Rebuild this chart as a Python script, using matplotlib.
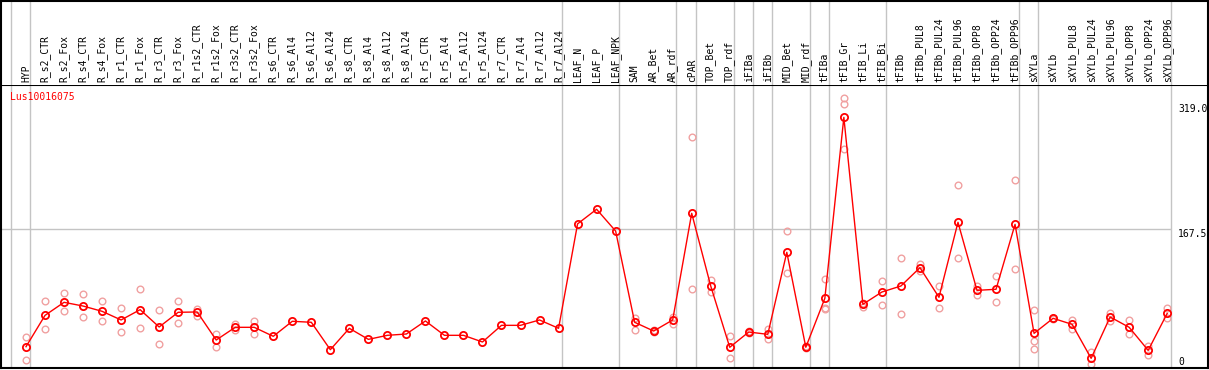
import matplotlib
matplotlib.use("Agg")
import matplotlib.pyplot as plt
import matplotlib.transforms as mtransforms

title = "Lus10016075"
samples = ["HYP", "R_s2_CTR", "R_s2_Fox", "R_s4_CTR", "R_s4_Fox", "R_r1_CTR", "R_r1_Fox",
           "R_r3_CTR", "R_r3_Fox", "R_r1s2_CTR", "R_r1s2_Fox", "R_r3s2_CTR", "R_r3s2_Fox",
           "R_s6_CTR", "R_s6_Al4", "R_s6_Al12", "R_s6_Al24", "R_s8_CTR", "R_s8_Al4",
           "R_s8_Al12", "R_s8_Al24", "R_r5_CTR", "R_r5_Al4", "R_r5_Al12", "R_r5_Al24",
           "R_r7_CTR", "R_r7_Al4", "R_r7_Al12", "R_r7_Al24", "LEAF_N", "LEAF_P", "LEAF_NPK",
           "SAM", "AR_Bet", "AR_rdf", "cPAR", "TOP_Bet", "TOP_rdf", "iFIBa", "iFIBb",
           "MID_Bet", "MID_rdf", "tFIBa", "tFIB_Gr", "tFIB_Li", "tFIB_Bi", "tFIBb",
           "tFIBb_PUL8", "tFIBb_PUL24", "tFIBb_PUL96", "tFIBb_OPP8", "tFIBb_OPP24",
           "tFIBb_OPP96", "sXYLa", "sXYLb", "sXYLb_PUL8", "sXYLb_PUL24", "sXYLb_PUL96",
           "sXYLb_OPP8", "sXYLb_OPP24", "sXYLb_OPP96"]

means = [24.6, 62.6, 78.4, 73.9, 67.5, 57.0, 69.5, 48.5, 66.3, 66.7, 32.7, 48.1, 48.1,
         37.2, 55.4, 54.2, 21.0, 46.9, 33.5, 38.4, 40.0, 55.8, 38.4, 38.4, 30.3,
         50.5, 50.5, 57.0, 46.9, 173.5, 191.2, 164.8,
         54.2, 43.6, 57.0, 186.3, 98.2, 23.9, 42.4, 39.6,
         139.0, 23.9, 83.2, 302.6, 76.0, 90.9, 98.2,
         120.4, 84.5, 175.4, 92.9, 94.2, 172.9,
         40.8, 59.0, 51.7, 10.5, 60.6, 48.1, 20.2, 65.0]

replicates = [[36.0, 8.5], [80.4, 45.7], [89.3, 67.5], [88.1, 60.2], [80.0, 55.4],
              [71.1, 42.4], [94.2, 47.3], [68.7, 27.5], [80.0, 53.0], [69.9, 62.2],
              [40.4, 24.6], [52.1, 44.4], [56.1, 39.6],
              [], [], [], [], [], [], [], [], [], [], [], [], [], [], [], [], [], [], [],
              [59.8, 44.8], [44.8, 42.4], [61.0, 52.5], [278.4, 94.2], [105.5, 90.5],
              [37.2, 10.9], [43.6, 41.2], [45.7, 33.9],
              [164.4, 113.5], [25.1, 22.7], [106.3, 71.9, 69.9], [325.7, 318.4, 263.9],
              [73.1, 77.2], [103.9, 74.8], [132.1, 63.9],
              [125.2, 116.4], [97.8, 71.1], [220.2, 131.7], [98.6, 86.9], [109.9, 78.4],
              [226.3, 118.4],
              [68.7, 31.1, 21.5], [58.0, 60.0], [57.4, 45.7], [17.8, 4.0], [65.0, 56.1],
              [57.0, 39.6], [25.5, 14.2], [71.5, 59.4]]

separators = [-0.8, 0.2, 28.2, 31.2, 34.2, 35.2, 37.2, 38.2, 39.2, 41.2, 42.2, 45.2,
              52.2, 53.2, 60.2]
axis_labels = ["319.0", "167.5", "0"]
axis_values = [319.0, 167.5, 0.0]

W, H = 1209, 370
fig = plt.figure(figsize=(W / 100, H / 100), dpi=100)

x0_px, x1_px = 1, 1208
sep_px = 85
bot_px = 368
xlim = ((x0_px - 26) / 19.02, (x1_px - 26) / 19.02)
ylim = ((367 - bot_px) / 0.825, (367 - sep_px) / 0.825)

ax = fig.add_axes([x0_px / W, (H - bot_px) / H, (x1_px - x0_px) / W, (bot_px - sep_px) / H])
axh = fig.add_axes([x0_px / W, (H - sep_px) / H, (x1_px - x0_px) / W, (sep_px - 0.5) / H])
for a in (ax, axh):
    a.set_xlim(*xlim)
    a.set_xticks([])
    a.set_yticks([])
    a.set_facecolor("white")
    for s in a.spines.values():
        s.set_color("black")
        s.set_linewidth(1.5)
    for sx in separators:
        a.axvline(sx, color="#c4c4c4", lw=1.0, zorder=0)
ax.set_ylim(*ylim)
axh.set_ylim(0, 1)
axh.spines["bottom"].set_visible(False)

grid_color = "#c4c4c4"
ax.hlines(167.5, xlim[0], separators[-1], color=grid_color, lw=1.0, zorder=0)

xs = list(range(len(samples)))
rx, ry = [], []
for i, reps in enumerate(replicates):
    for r in reps:
        rx.append(i)
        ry.append(r)
ax.plot(rx, ry, linestyle="none", marker="o", ms=4.8, mfc="none", mec="#f0a0a0",
        mew=1.0, zorder=2)
ax.plot(xs, means, color="red", lw=1.0, zorder=3)
ax.plot(xs, means, linestyle="none", marker="o", ms=5.2, mfc="none", mec="red",
        mew=1.3, zorder=4)

fnt = {"family": "DejaVu Sans Mono", "size": 7}
trans_h = mtransforms.blended_transform_factory(axh.transData, axh.transAxes)
for i, name in enumerate(samples):
    axh.text(i, 0.03, name, rotation=90, ha="center", va="bottom", transform=trans_h,
             fontdict=fnt, color="black")

ax.text(10 / W, (H - 97) / H, title, transform=fig.transFigure, ha="left", va="center",
        fontdict=fnt, color="red")

trans_r = mtransforms.blended_transform_factory(fig.transFigure, ax.transData)
for lab, val in zip(axis_labels, axis_values):
    if val == 0:
        fig.text(1178 / W, (H - 362) / H, lab, ha="left", va="center", fontdict=fnt)
    else:
        ax.text(1178 / W, val, lab, transform=trans_r, ha="left", va="top", fontdict=fnt)

fig.savefig("out.png", dpi=100, facecolor="white")
